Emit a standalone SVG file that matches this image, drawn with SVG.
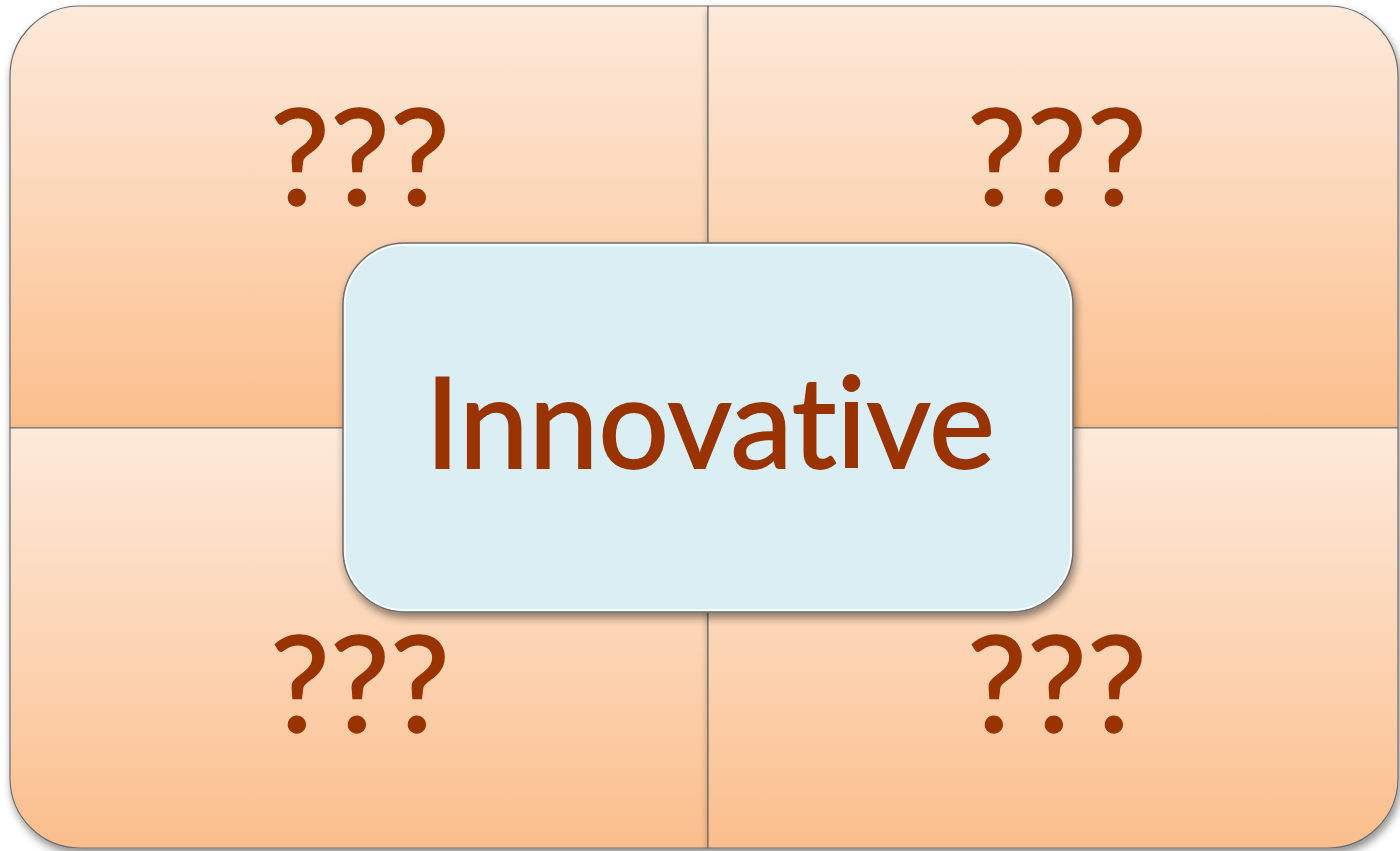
<svg xmlns="http://www.w3.org/2000/svg" width="1400" height="851" viewBox="0 0 1400 851">
<style>
.quad{fill:url(#peach);stroke:#6e6e6e;stroke-width:1.2}
.q{font-family:Lato,"Open Sans",sans-serif;font-size:134px;fill:#993300;stroke:#993300;stroke-width:1.5;text-anchor:middle;font-variant-ligatures:none}
.main{font-family:Lato,"Open Sans",sans-serif;font-size:126px;fill:#993300;stroke:#993300;stroke-width:1.8;text-anchor:middle;font-variant-ligatures:none;font-feature-settings:"liga" 0}
</style>
<defs>
<linearGradient id="peach" x1="0" y1="0" x2="0" y2="1">
<stop offset="0" stop-color="#FDE9DA"/>
<stop offset="0.5" stop-color="#FCD5B5"/>
<stop offset="1" stop-color="#FBBE8C"/>
</linearGradient>
<filter id="sh" x="-10%" y="-10%" width="120%" height="125%">
<feGaussianBlur in="SourceAlpha" stdDeviation="4"/>
<feOffset dx="2" dy="5" result="b"/>
<feComponentTransfer><feFuncA type="linear" slope="0.45"/></feComponentTransfer>
<feMerge><feMergeNode/><feMergeNode in="SourceGraphic"/></feMerge>
</filter>
</defs>
<rect width="1400" height="851" fill="#ffffff"/>
<g id="q-tl">
<path class="quad" filter="url(#sh)" d="M10,76 A70,70 0 0 1 80,6 L708,6 L708,428 L10,428 Z"/>
<text class="q" x="360" y="205" textLength="180" lengthAdjust="spacing">???</text>
</g>
<g id="q-tr">
<path class="quad" filter="url(#sh)" d="M708,6 L1328,6 A70,70 0 0 1 1398,76 L1398,428 L708,428 Z"/>
<text class="q" x="1057" y="205" textLength="180" lengthAdjust="spacing">???</text>
</g>
<g id="q-bl">
<path class="quad" filter="url(#sh)" d="M10,428 L708,428 L708,848 L80,848 A70,70 0 0 1 10,778 Z"/>
<text class="q" x="360" y="732" textLength="180" lengthAdjust="spacing">???</text>
</g>
<g id="q-br">
<path class="quad" filter="url(#sh)" d="M708,428 L1398,428 L1398,778 A70,70 0 0 1 1328,848 L708,848 Z"/>
<text class="q" x="1057" y="732" textLength="180" lengthAdjust="spacing">???</text>
</g>
<g id="center">
<rect x="343" y="243" width="730" height="369" rx="62" ry="62" fill="#DBEEF4" stroke="#6e6e6e" stroke-width="1.5" filter="url(#sh)"/>
<rect x="345" y="245" width="726" height="365" rx="60" ry="60" fill="none" stroke="#ffffff" stroke-width="1.5"/>
<text class="main" x="710" y="468" textLength="570" lengthAdjust="spacingAndGlyphs">Innovative</text>
</g>
</svg>
